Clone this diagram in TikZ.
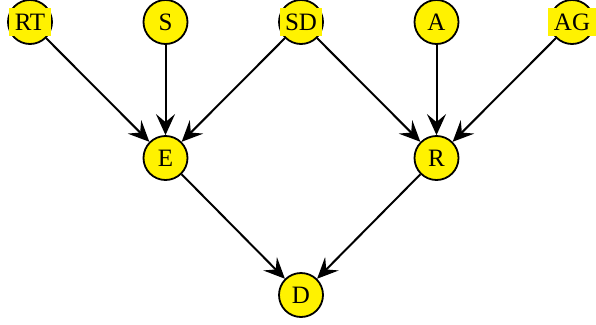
\documentclass[tikz,border=0pt]{standalone}
\usepackage{fontspec}
\setmainfont{Liberation Serif}
\usetikzlibrary{arrows.meta}
\begin{document}
\begin{tikzpicture}[x=1pt,y=-1pt,
  vnode/.style={circle,draw=black,fill=yellow,line width=1.8pt,minimum size=44pt,inner sep=0pt},
  vlabel/.style={fill=yellow,inner sep=5.5pt,font=\fontsize{25}{29}\selectfont},
  conn/.style={line width=2pt,-{Stealth[length=21pt,width=19pt,inset=8pt]}}]
\useasboundingbox (0,0) rectangle (596,324);
\node[vnode] (RT) at (30,22) {};
\node[vnode] (S) at (165.5,22) {};
\node[vnode] (SD) at (301,22) {};
\node[vnode] (A) at (436.5,22) {};
\node[vnode] (AG) at (572,22) {};
\node[vnode] (E) at (165.5,158) {};
\node[vnode] (R) at (436.5,158) {};
\node[vnode] (D) at (301,295) {};
\draw[conn] (RT) -- (E);
\draw[conn] (S) -- (E);
\draw[conn] (SD) -- (E);
\draw[conn] (SD) -- (R);
\draw[conn] (A) -- (R);
\draw[conn] (AG) -- (R);
\draw[conn] (E) -- (D);
\draw[conn] (R) -- (D);
\node[vlabel] (tRT) at (RT) {RT};
\node[vlabel] (tS) at (S) {S};
\node[vlabel] (tSD) at (SD) {SD};
\node[vlabel] (tA) at (A) {A};
\node[vlabel] (tAG) at (AG) {AG};
\node[vlabel] (tE) at (E) {E};
\node[vlabel] (tR) at (R) {R};
\node[vlabel] (tD) at (D) {D};
\end{tikzpicture}
\end{document}
